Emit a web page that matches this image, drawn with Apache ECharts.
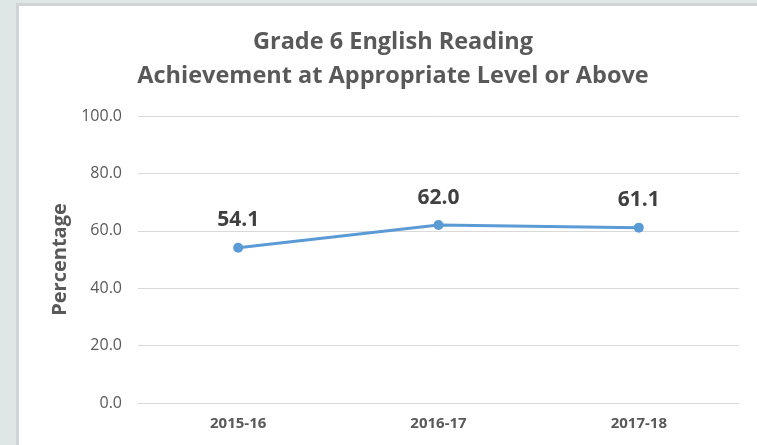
<!DOCTYPE html>
<html>
<head>
<meta charset="utf-8">
<script src="https://cdn.jsdelivr.net/npm/echarts@6/dist/echarts.min.js"></script>
<style>
  html, body { margin: 0; padding: 0; background: #dfe6e6; }
  #chart { width: 757px; height: 445px; }
</style>
</head>
<body>
<div id="chart"></div>
<script>
const years = ['2015-16', '2016-17', '2017-18']
const percentages = [54.1, 62.0, 61.1]
const titleLines = ['Grade 6 English Reading', 'Achievement at Appropriate Level or Above']

const chart = echarts.init(document.getElementById('chart'))

chart.setOption({
  backgroundColor: '#dfe6e6',
  textStyle: { fontFamily: 'Open Sans, Liberation Sans, sans-serif' },
  graphic: [
    {
      type: 'rect',
      shape: { x: 17.5, y: 4.5, width: 760, height: 460 },
      style: { fill: '#ffffff', stroke: '#d0d4d4', lineWidth: 3 },
      z: -10
    }
  ],
  title: {
    text: titleLines.join('\n'),
    left: 388,
    top: 20,
    textAlign: 'center',
    textStyle: {
      fontSize: 23.5,
      fontWeight: 'bold',
      color: '#595959',
      lineHeight: 34,
      fontFamily: 'Open Sans, sans-serif'
    }
  },
  grid: {
    left: 138,
    right: 18,
    top: 116,
    bottom: 42
  },
  xAxis: {
    type: 'category',
    data: years,
    boundaryGap: true,
    axisLine: { lineStyle: { color: '#d9d9d9', width: 1 } },
    axisTick: { show: false },
    axisLabel: {
      margin: 13,
      fontSize: 15,
      fontWeight: 'bold',
      color: '#595959'
    }
  },
  yAxis: {
    type: 'value',
    min: 0,
    max: 100,
    interval: 20,
    name: 'Percentage',
    nameLocation: 'middle',
    nameGap: 66,
    nameTextStyle: {
      fontSize: 20,
      fontWeight: 'bold',
      color: '#595959'
    },
    axisLine: { show: false },
    axisTick: { show: false },
    splitLine: { lineStyle: { color: '#d9d9d9', width: 1 } },
    axisLabel: {
      margin: 16,
      fontSize: 16,
      color: '#595959',
      formatter: (v) => v.toFixed(1)
    }
  },
  series: [
    {
      type: 'line',
      data: percentages,
      symbol: 'circle',
      symbolSize: 10,
      itemStyle: { color: '#5b9bd5' },
      lineStyle: { color: '#5b9bd5', width: 3 },
      label: {
        show: true,
        position: 'top',
        distance: 12,
        fontSize: 21,
        fontWeight: 'bold',
        color: '#404040',
        formatter: (p) => p.value.toFixed(1)
      }
    }
  ]
})
</script>
</body>
</html>
